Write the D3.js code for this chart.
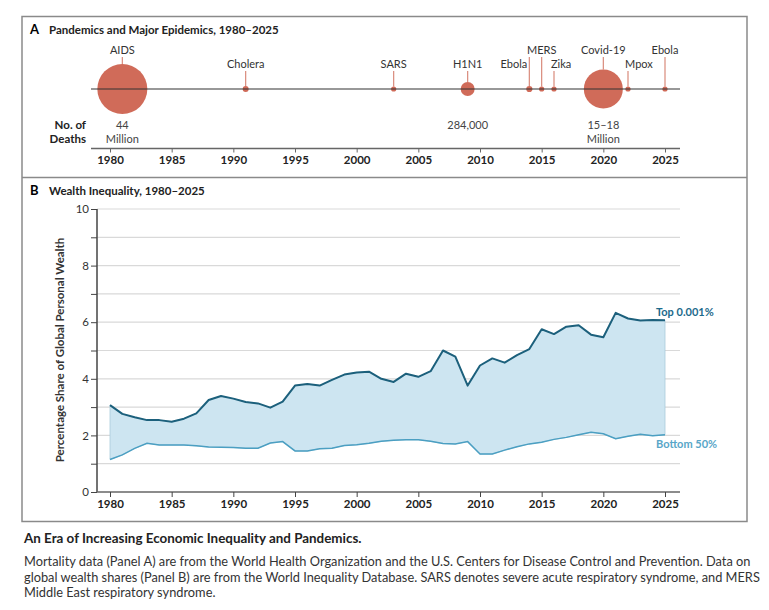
<!DOCTYPE html>
<html>
<head>
<meta charset="utf-8">
<script src="https://cdn.jsdelivr.net/npm/d3@7"></script>
<style>
  body { margin: 0; background: #fff; }
  svg text { font-family: Lato, "Open Sans", sans-serif; }
</style>
</head>
<body>
<div id="chart"></div>
<script>
// Panel A: pandemics and epidemics
const eventNames = ['AIDS', 'Cholera', 'SARS', 'H1N1', 'Ebola', 'MERS', 'Zika', 'Covid-19', 'Mpox', 'Ebola'];
const eventYears = [1981, 1991, 2003, 2009, 2014, 2015, 2016, 2020, 2022, 2025];
const eventDeaths = [44e6, 10000, 774, 284000, 11300, 860, 50, 16.5e6, 220, 50];
const deathLabels = [['44', 'Million'], null, null, ['284,000'], null, null, null, ['15\u201318', 'Million'], null, null];

// Panel B: wealth shares
const years = d3.range(1980, 2026);
const top0001 = [3.07, 2.76, 2.64, 2.54, 2.54, 2.48, 2.59, 2.78, 3.25, 3.39,
  3.30, 3.18, 3.13, 2.98, 3.19, 3.76, 3.82, 3.76, 3.96, 4.15,
  4.22, 4.25, 4.00, 3.89, 4.18, 4.07, 4.27, 5.00, 4.78, 3.76,
  4.47, 4.72, 4.57, 4.84, 5.05, 5.75, 5.58, 5.84, 5.89, 5.56,
  5.47, 6.33, 6.13, 6.06, 6.08, 6.07];
const bottom50 = [1.15, 1.31, 1.54, 1.72, 1.66, 1.66, 1.66, 1.63, 1.59, 1.58,
  1.57, 1.55, 1.55, 1.73, 1.78, 1.45, 1.45, 1.53, 1.55, 1.64,
  1.67, 1.72, 1.79, 1.83, 1.85, 1.85, 1.79, 1.71, 1.70, 1.78,
  1.34, 1.34, 1.48, 1.60, 1.70, 1.76, 1.86, 1.93, 2.02, 2.11,
  2.06, 1.88, 1.97, 2.04, 1.99, 2.02];
const xTicks = [1980, 1985, 1990, 1995, 2000, 2005, 2010, 2015, 2020, 2025];
const yTicks = d3.range(0, 11);

const W = 769, H = 610;
const svg = d3.select('#chart').append('svg').attr('width', W).attr('height', H);

// frame
svg.append('rect').attr('x', 22).attr('y', 16.5).attr('width', 725).attr('height', 505)
  .attr('fill', 'none').attr('stroke', '#8a8a8a').attr('stroke-width', 1.5);
svg.append('line').attr('x1', 22).attr('x2', 747).attr('y1', 177.5).attr('y2', 177.5)
  .attr('stroke', '#8a8a8a').attr('stroke-width', 1.5);

const x = d3.scaleLinear().domain([1980, 2025]).range([110, 665]);

// ---- Panel A ----
const gA = svg.append('g');
gA.append('text').attr('x', 30).attr('y', 34).attr('font-weight', 700).attr('font-size', 13).text('A');
gA.append('text').attr('x', 49).attr('y', 34).attr('font-weight', 700).attr('font-size', 11.5)
  .attr('fill', '#222').text('Pandemics and Major Epidemics, 1980\u20132025');

const lineY = 89;
const r = d3.scalePow().exponent(0.253).domain([0, 44e6]).range([0, 25]);
const rad = d => Math.max(2.6, r(d));
const events = eventNames.map((n, i) => ({ name: n, year: eventYears[i], deaths: eventDeaths[i], label: deathLabels[i] }));

// label placement: high row for some, low row for others
const highRow = ['AIDS', 'MERS', 'Covid-19'];
const place = (d, i) => {
  if (i === 9) return { row: 'high', anchor: 'middle', dx: 0 };
  if (highRow.includes(d.name)) return { row: 'high', anchor: 'middle', dx: 0 };
  if (i === 4) return { row: 'low', anchor: 'end', dx: -2 };
  if (d.name === 'Zika' || d.name === 'Mpox') return { row: 'low', anchor: 'start', dx: -3 };
  return { row: 'low', anchor: 'middle', dx: 0 };
};

events.forEach((d, i) => {
  const p = place(d, i);
  const cx = x(d.year);
  const ty = p.row === 'high' ? 54 : 68;
  const stemTop = p.anchor === 'middle' ? ty + 3 : (p.row === 'low' ? (d.name === 'Ebola' ? 57 : 71) : 57);
  gA.append('line').attr('x1', cx).attr('x2', cx).attr('y1', stemTop).attr('y2', lineY - rad(d.deaths))
    .attr('stroke', '#d98a7b').attr('stroke-width', 1.2);
  gA.append('circle').attr('cx', cx).attr('cy', lineY).attr('r', rad(d.deaths)).attr('fill', '#d06b59');
  gA.append('text').attr('x', cx + p.dx).attr('y', ty).attr('text-anchor', p.anchor)
    .attr('font-size', 11).attr('fill', '#333').text(d.name);
  if (d.label) {
    d.label.forEach((t, k) => {
      gA.append('text').attr('x', cx).attr('y', 129 + k * 13.5).attr('text-anchor', 'middle')
        .attr('font-size', 11).attr('fill', '#444').text(t);
    });
  }
});
gA.append('line').attr('x1', 91).attr('x2', 680).attr('y1', lineY).attr('y2', lineY)
  .attr('stroke', '#333').attr('stroke-width', 1.2);

gA.append('text').attr('x', 86).attr('y', 129).attr('text-anchor', 'end').attr('font-weight', 700)
  .attr('font-size', 11.5).attr('fill', '#222').text('No. of');
gA.append('text').attr('x', 86).attr('y', 142.5).attr('text-anchor', 'end').attr('font-weight', 700)
  .attr('font-size', 11.5).attr('fill', '#222').text('Deaths');

const axA = gA.append('g').attr('transform', 'translate(0,148.5)')
  .call(d3.axisBottom(x).tickValues(xTicks).tickFormat(d3.format('d')).tickSize(4).tickPadding(3));
axA.select('.domain').attr('d', 'M91,0H680').attr('stroke', '#666').attr('stroke-width', 1.5);
axA.selectAll('.tick line').attr('stroke', '#666');
axA.selectAll('.tick text').attr('font-family', 'Lato, sans-serif').attr('font-size', 11.5)
  .attr('font-weight', 700).attr('fill', '#222');

// ---- Panel B ----
const gB = svg.append('g');
gB.append('text').attr('x', 30).attr('y', 195).attr('font-weight', 700).attr('font-size', 13).text('B');
gB.append('text').attr('x', 49).attr('y', 195).attr('font-weight', 700).attr('font-size', 11.5)
  .attr('fill', '#222').text('Wealth Inequality, 1980\u20132025');

const y = d3.scaleLinear().domain([0, 10]).range([492, 209]);

gB.append('g').selectAll('line').data(yTicks.filter(t => t > 0)).join('line')
  .attr('x1', 97).attr('x2', 680).attr('y1', d => y(d)).attr('y2', d => y(d))
  .attr('stroke', '#d9d9d9').attr('stroke-width', 1.2);

const series = years.map((yr, i) => ({ year: yr, top: top0001[i], bottom: bottom50[i] }));
const area = d3.area().x(d => x(d.year)).y0(d => y(d.bottom)).y1(d => y(d.top));
gB.append('path').datum(series).attr('d', area).attr('fill', '#cde5f1')
  .attr('stroke', '#a9cbdc').attr('stroke-width', 0.8);
gB.append('path').datum(series).attr('fill', 'none').attr('stroke', '#4b9fc2').attr('stroke-width', 1.5)
  .attr('d', d3.line().x(d => x(d.year)).y(d => y(d.bottom)));
gB.append('path').datum(series).attr('fill', 'none').attr('stroke', '#1c607c').attr('stroke-width', 2)
  .attr('stroke-linejoin', 'round').attr('d', d3.line().x(d => x(d.year)).y(d => y(d.top)));

const axY = gB.append('g').attr('transform', 'translate(97,0)')
  .call(d3.axisLeft(y).tickValues(yTicks).tickSize(6).tickPadding(2)
    .tickFormat(d => d % 2 === 0 ? d : ''));
axY.select('.domain').attr('d', 'M0,209V492').attr('stroke', '#444').attr('stroke-width', 1.5);
axY.selectAll('.tick line').attr('stroke', '#444');
axY.selectAll('.tick text').attr('font-family', 'Lato, sans-serif').attr('font-size', 11.5).attr('fill', '#333');

const axX = gB.append('g').attr('transform', 'translate(0,492)')
  .call(d3.axisBottom(x).tickValues(xTicks).tickFormat(d3.format('d')).tickSize(5).tickPadding(3));
axX.select('.domain').attr('d', 'M97,0H680').attr('stroke', '#666').attr('stroke-width', 1.5);
axX.selectAll('.tick line').attr('stroke', '#444');
axX.selectAll('.tick text').attr('font-family', 'Lato, sans-serif').attr('font-size', 11.5)
  .attr('font-weight', 700).attr('fill', '#222');

gB.append('text').attr('transform', 'translate(64,350) rotate(-90)').attr('text-anchor', 'middle')
  .attr('font-weight', 700).attr('font-size', 11.5).attr('fill', '#333')
  .text('Percentage Share of Global Personal Wealth');

gB.append('text').attr('x', 656).attr('y', 316).attr('font-weight', 700).attr('font-size', 11)
  .attr('fill', '#1c6a8c').text('Top 0.001%');
gB.append('text').attr('x', 656).attr('y', 448).attr('font-weight', 700).attr('font-size', 11)
  .attr('fill', '#58a6c8').text('Bottom 50%');

// ---- Caption ----
svg.append('text').attr('x', 24).attr('y', 543).attr('font-weight', 700).attr('font-size', 13.4)
  .attr('fill', '#222').text('An Era of Increasing Economic Inequality and Pandemics.');
const capLines = [
  'Mortality data (Panel A) are from the World Health Organization and the U.S. Centers for Disease Control and Prevention. Data on',
  'global wealth shares (Panel B) are from the World Inequality Database. SARS denotes severe acute respiratory syndrome, and MERS',
  'Middle East respiratory syndrome.'
];
capLines.forEach((t, i) => {
  svg.append('text').attr('x', 24).attr('y', 566 + i * 15.5).attr('font-size', 12.8)
    .attr('fill', '#333').text(t);
});
</script>
</body>
</html>
